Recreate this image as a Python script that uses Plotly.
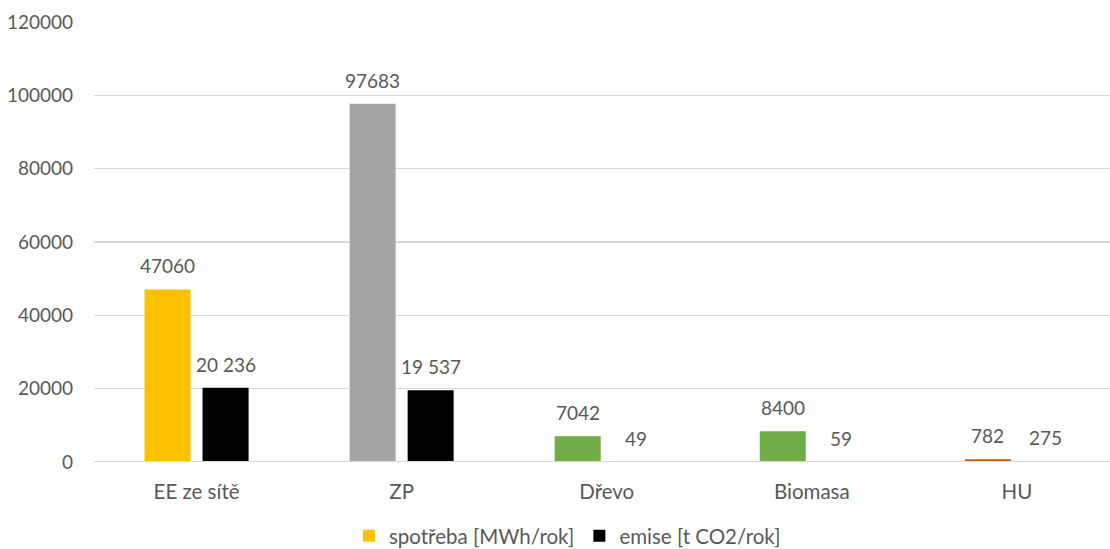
import plotly.graph_objects as go

categories = ["EE ze sítě", "ZP", "Dřevo", "Biomasa", "HU"]
spotreba = [47060, 97683, 7042, 8400, 782]
emise = [20236, 19537, 49, 59, 275]
spotreba_colors = ["#FFC000", "#A5A5A5", "#70AD47", "#70AD47", "#C55A11"]
y_ticks = [0, 20000, 40000, 60000, 80000, 100000, 120000]

FONT = "Lato"
TXT = "#595959"

fig = go.Figure()
fig.add_trace(go.Bar(
    x=categories, y=spotreba, name="spotřeba [MWh/rok]",
    marker=dict(color=spotreba_colors, line=dict(width=0)),
))
fig.add_trace(go.Bar(
    x=categories, y=emise, name="emise [t CO2/rok]",
    marker=dict(color="#000000", line=dict(width=0)),
))

annotations = []
for c, v in zip(categories, spotreba):
    annotations.append(dict(x=c, y=v, text=str(v), xshift=-29, yshift=10,
                            showarrow=False, yanchor="bottom",
                            font=dict(family=FONT, size=19, color=TXT)))
for c, v in zip(categories, emise):
    label = f"{v:,}".replace(",", " ")
    annotations.append(dict(x=c, y=v, text=label, xshift=29, yshift=10,
                            showarrow=False, yanchor="bottom",
                            font=dict(family=FONT, size=19, color=TXT)))

# category axis baseline, drawn over the bars
baseline = dict(type="line", xref="paper", x0=0, x1=1, yref="y", y0=0, y1=0,
                line=dict(color="#D9D9D9", width=2), layer="above")

fig.update_layout(
    width=1110, height=549,
    margin=dict(l=94, r=0, t=22, b=87),
    paper_bgcolor="white", plot_bgcolor="white",
    barmode="group", bargap=0.434, bargroupgap=0.207,
    font=dict(family=FONT, size=19, color=TXT),
    showlegend=True,
    legend=dict(orientation="h", x=0.466, xanchor="center",
                yref="container", y=0.024, yanchor="middle",
                font=dict(family=FONT, size=20.5, color=TXT),
                itemwidth=30, traceorder="normal"),
    annotations=annotations,
    shapes=[baseline],
    xaxis=dict(range=[-0.5, 4.454], showgrid=False, showline=False, ticks="",
               ticklabelstandoff=15, tickfont=dict(family=FONT, size=20.5, color=TXT)),
    yaxis=dict(range=[0, 120000], tickvals=y_ticks, tickformat="d",
               showgrid=True, gridcolor="#D9D9D9", gridwidth=1.5,
               zeroline=False, showline=False, ticks="", ticklabelstandoff=20,
               tickfont=dict(family=FONT, size=19, color=TXT)),
)

# static rendering keeps bar heights exact instead of padding thin bars to a pixel
fig.write_html("out.html", config={"staticPlot": True})
